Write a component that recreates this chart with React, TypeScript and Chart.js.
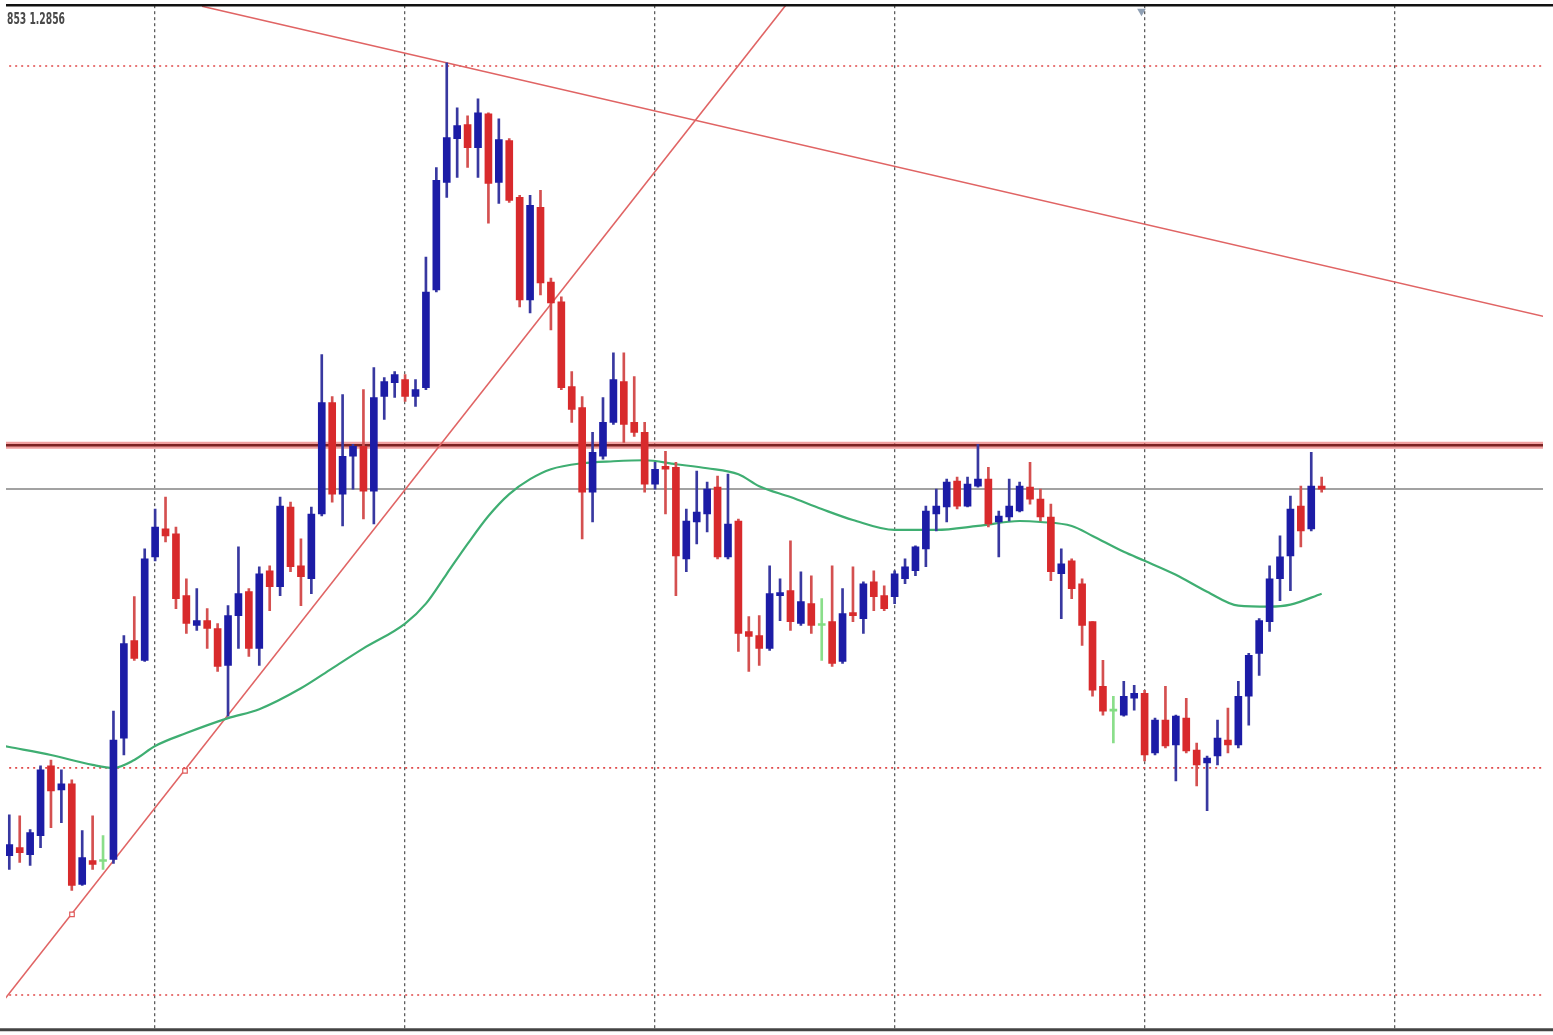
import React, { useEffect, useRef } from "react";
import { Chart, registerables } from "chart.js";

Chart.register(...registerables);

// ---- Candle data (EURUSD-like, H1), one entry per bar ----
const OPEN = [
  1.28192, 1.282, 1.28193, 1.28212, 1.28282, 1.28258, 1.28264, 1.28163, 1.28187, 1.28186,
  1.28188, 1.2831, 1.28408, 1.28388, 1.28492, 1.2852, 1.28515, 1.28453, 1.28423, 1.28428,
  1.2842, 1.28383, 1.28433, 1.28457, 1.284, 1.28478, 1.28462, 1.28542, 1.28483, 1.2847,
  1.28535, 1.28647, 1.28555, 1.28593, 1.28603, 1.28558, 1.28653, 1.28667, 1.2867, 1.28653,
  1.28662, 1.2876, 1.28868, 1.28912, 1.28926, 1.28903, 1.28937, 1.28868, 1.2891, 1.28853,
  1.2875, 1.28843, 1.28768, 1.28748, 1.28663, 1.28642, 1.28557, 1.28593, 1.28627, 1.28668,
  1.28627, 1.28617, 1.28565, 1.28583, 1.28582, 1.2849, 1.28527, 1.28535, 1.28562, 1.28492,
  1.28528, 1.28417, 1.28413, 1.284, 1.28453, 1.28458, 1.28425, 1.28445, 1.28423, 1.28427,
  1.28387, 1.28436, 1.2843, 1.28467, 1.28453, 1.28452, 1.2847, 1.28478, 1.285, 1.28535,
  1.28542, 1.28568, 1.28543, 1.28563, 1.2857, 1.28527, 1.28532, 1.28538, 1.28562, 1.2855,
  1.28532, 1.28475, 1.28488, 1.28465, 1.28427, 1.28362, 1.28337, 1.28333, 1.2835, 1.28355,
  1.28295, 1.28328, 1.28303, 1.2833, 1.28298, 1.28285, 1.28292, 1.28308, 1.28303, 1.28352,
  1.28395, 1.28427, 1.2847, 1.28493, 1.28543, 1.2852, 1.28563,
];
const HIGH = [
  1.28233, 1.28232, 1.28218, 1.28282, 1.28288, 1.28278, 1.28268, 1.28217, 1.28232, 1.28212,
  1.28337, 1.28413, 1.28452, 1.285, 1.2854, 1.28552, 1.28522, 1.2847, 1.2846, 1.2844,
  1.28425, 1.28443, 1.28502, 1.2846, 1.28482, 1.28483, 1.28552, 1.28547, 1.2851, 1.28542,
  1.28695, 1.28653, 1.28655, 1.28605, 1.2866, 1.28682, 1.28672, 1.28678, 1.28675, 1.2867,
  1.28793, 1.28883, 1.28988, 1.28943, 1.28935, 1.28952, 1.28938, 1.28932, 1.28912, 1.28855,
  1.28855, 1.2886, 1.28772, 1.28753, 1.28678, 1.28653, 1.28617, 1.28652, 1.28697, 1.28697,
  1.28673, 1.28627, 1.28587, 1.28598, 1.28587, 1.2854, 1.28578, 1.28567, 1.28573, 1.28575,
  1.2853, 1.28432, 1.28433, 1.28483, 1.2847, 1.28508, 1.28477, 1.28473, 1.2845, 1.28483,
  1.2846, 1.28482, 1.28467, 1.28478, 1.28463, 1.28478, 1.2849, 1.28503, 1.28543, 1.2856,
  1.2857, 1.28572, 1.28572, 1.28605, 1.28582, 1.28538, 1.2857, 1.28567, 1.28587, 1.2856,
  1.28545, 1.285, 1.2849, 1.2847, 1.28427, 1.28388, 1.28352, 1.28367, 1.28363, 1.28358,
  1.2833, 1.28362, 1.28333, 1.2835, 1.28305, 1.28292, 1.28328, 1.2834, 1.28367, 1.28395,
  1.2843, 1.28483, 1.28513, 1.28553, 1.28563, 1.28597, 1.28572,
];
const LOW = [
  1.28178, 1.28185, 1.28182, 1.282, 1.2822, 1.28225, 1.28157, 1.28162, 1.28178, 1.28178,
  1.28184, 1.28293, 1.28388, 1.28387, 1.28488, 1.28507, 1.2844, 1.28415, 1.28418, 1.284,
  1.28377, 1.28332, 1.284, 1.28392, 1.28383, 1.28438, 1.28453, 1.28477, 1.28443, 1.28455,
  1.28533, 1.28547, 1.28523, 1.2856, 1.2853, 1.28525, 1.2863, 1.28652, 1.28648, 1.28643,
  1.2866, 1.28758, 1.28853, 1.28873, 1.28883, 1.28873, 1.28827, 1.28847, 1.28848, 1.28743,
  1.28737, 1.28755, 1.2872, 1.2866, 1.28627, 1.2851, 1.28527, 1.2859, 1.28625, 1.28607,
  1.28613, 1.28557, 1.2856, 1.28535, 1.28453, 1.28477, 1.28505, 1.28517, 1.2849, 1.2849,
  1.28397, 1.28377, 1.28383, 1.28398, 1.28428, 1.28418, 1.28423, 1.28415, 1.28388, 1.28382,
  1.28385, 1.28427, 1.28415, 1.28438, 1.28438, 1.28445, 1.28465, 1.28473, 1.28482, 1.28518,
  1.28527, 1.2854, 1.28542, 1.28562, 1.28522, 1.28492, 1.28528, 1.28537, 1.28545, 1.28528,
  1.28468, 1.2843, 1.2845, 1.28403, 1.28352, 1.28333, 1.28305, 1.28332, 1.28338, 1.28287,
  1.28293, 1.283, 1.28267, 1.28295, 1.28262, 1.28237, 1.28283, 1.28295, 1.283, 1.28323,
  1.28373, 1.28417, 1.28448, 1.28458, 1.28502, 1.28518, 1.28557,
];
const CLOSE = [
  1.28203, 1.28195, 1.28215, 1.28278, 1.28257, 1.28264, 1.28162, 1.2819, 1.28183, 1.28186,
  1.28308, 1.28405, 1.2839, 1.2849, 1.28522, 1.28513, 1.2845, 1.28425, 1.28428, 1.2842,
  1.28382, 1.28433, 1.28455, 1.284, 1.28475, 1.28462, 1.28543, 1.28482, 1.28472, 1.28535,
  1.28647, 1.28555, 1.28593, 1.28603, 1.28558, 1.28652, 1.28668, 1.28675, 1.28653, 1.2866,
  1.28758, 1.2887, 1.28913, 1.28925, 1.28903, 1.28938, 1.28867, 1.28911, 1.2885, 1.2875,
  1.28845, 1.28767, 1.28747, 1.28662, 1.2864, 1.28557, 1.28597, 1.28627, 1.2867, 1.28625,
  1.28617, 1.28565, 1.2858, 1.2858, 1.28493, 1.28528, 1.28537, 1.2856, 1.28492, 1.28525,
  1.28415, 1.28412, 1.284, 1.28455, 1.28456, 1.28427, 1.28447, 1.28423, 1.28423, 1.28385,
  1.28435, 1.28433, 1.28465, 1.28452, 1.2844, 1.28475, 1.28482, 1.28502, 1.28538, 1.28543,
  1.28567, 1.28543, 1.28565, 1.2857, 1.28525, 1.28533, 1.28543, 1.28563, 1.2855, 1.28532,
  1.28477, 1.28485, 1.2846, 1.28423, 1.28358, 1.28337, 1.28337, 1.28352, 1.28355, 1.28293,
  1.28328, 1.28302, 1.28332, 1.28297, 1.28283, 1.2829, 1.2831, 1.28303, 1.28352, 1.28393,
  1.28428, 1.2847, 1.28492, 1.2854, 1.28518, 1.28563, 1.2856,
];

// ---- Moving average (read at selected bars) ----
const MA_IDX = [
  -1, 0, 4, 8, 10, 12, 14, 17, 21, 24, 28, 31, 34, 38, 40, 42, 44, 46, 48, 50, 52, 55, 58, 61,
  64, 67, 70, 72, 75, 78, 81, 85, 89, 93, 97, 99, 102, 104, 107, 109, 112, 115, 118, 121, 123, 126,
];
const MA_VAL = [
  1.28303, 1.28301, 1.28293, 1.28283, 1.2828, 1.28288, 1.28302, 1.28315, 1.2833, 1.28339, 1.2836,
  1.2838, 1.284, 1.28425, 1.28445, 1.28475, 1.28505, 1.28533, 1.28555, 1.2857, 1.2858, 1.28586,
  1.28588, 1.28589, 1.28585, 1.28581, 1.28575, 1.28563, 1.28552, 1.2854, 1.28529, 1.28519, 1.28519,
  1.28523, 1.28528, 1.28527, 1.28523, 1.28513, 1.28497, 1.28488, 1.28474, 1.28457, 1.28443, 1.28442,
  1.28444, 1.28455,
];

// ---- Drawn objects ----
const GRID_IDX = [14, 38, 62, 85, 109, 133];
const DOTTED_LEVELS = [1.28985, 1.2828, 1.28052];
const RESISTANCE = 1.28604;
const BID = 1.2856;
const TREND_DOWN_X = [18.5, 147.5];
const TREND_DOWN_Y = [1.29045, 1.28733];
const TREND_UP_X = [-0.5, 75];
const TREND_UP_Y = [1.28047, 1.29052];
const ANCHOR_X = [6.02, 16.87];
const ANCHOR_Y = [1.28133, 1.28277];
const SHIFT_MARK_X = [108.7];
const SHIFT_MARK_Y = [1.2904];
const LABEL = "853 1.2856";

const X_MIN = -0.317;
const X_MAX = 147.25;
const Y_MIN = 1.28017;
const Y_MAX = 1.29046;

const UP = "#1c1ca6";
const DOWN = "#d82a2c";
const FLAT = "#82dc82";
const UP_WICK = "#3838a0";
const DOWN_WICK = "#d45050";
const FLAT_WICK = "#8ade8a";

function dirOf(i: number) {
  if (CLOSE[i] > OPEN[i]) return 1;
  if (CLOSE[i] < OPEN[i]) return -1;
  return 0;
}

function hline(y: number, color: string, width: number, dash: number[], order: number) {
  return {
    type: "line" as const,
    data: [
      { x: X_MIN - 2, y },
      { x: X_MAX + 2, y },
    ],
    borderColor: color,
    borderWidth: width,
    borderDash: dash,
    pointRadius: 0,
    order,
  };
}

const overlayPlugin = {
  id: "mtOverlay",
  afterDraw(chart: any) {
    const { ctx, chartArea, width } = chart;
    ctx.save();
    ctx.strokeStyle = "#111111";
    ctx.lineWidth = 2.5;
    ctx.beginPath();
    ctx.moveTo(chartArea.left, chartArea.top);
    ctx.lineTo(width, chartArea.top);
    ctx.stroke();
    ctx.strokeStyle = "#444444";
    ctx.lineWidth = 3;
    ctx.beginPath();
    ctx.moveTo(0, chartArea.bottom);
    ctx.lineTo(width, chartArea.bottom);
    ctx.stroke();

    ctx.font = 'bold 15px "DejaVu Sans Condensed", "DejaVu Sans", sans-serif';
    const w = ctx.measureText(LABEL).width;
    ctx.translate(chartArea.left + 1, chartArea.top + 7);
    ctx.scale(58 / w, 1);
    ctx.fillStyle = "#4a4a4a";
    ctx.textBaseline = "top";
    ctx.fillText(LABEL, 0, 0);
    ctx.restore();
  },
};

export default function App() {
  const ref = useRef<HTMLCanvasElement>(null);

  useEffect(() => {
    document.body.style.margin = "0";
    const idx = OPEN.map((_, i) => i);

    const wicks = {
      type: "bar" as const,
      data: idx.map((i) => ({ x: i, y: [LOW[i], HIGH[i]] })),
      backgroundColor: (c: any) => {
        const d = dirOf(c.dataIndex);
        return d > 0 ? UP_WICK : d < 0 ? DOWN_WICK : FLAT_WICK;
      },
      barThickness: 2,
      grouped: false,
      borderWidth: 0,
      order: 2,
    };
    const bodies = {
      type: "bar" as const,
      data: idx.map((i) => ({ x: i, y: [OPEN[i], CLOSE[i]] })),
      backgroundColor: (c: any) => {
        const d = dirOf(c.dataIndex);
        return d > 0 ? UP : d < 0 ? DOWN : FLAT;
      },
      barThickness: 7,
      minBarLength: 2,
      grouped: false,
      borderWidth: 0,
      order: 1,
    };
    const ma = {
      type: "line" as const,
      data: MA_IDX.map((x, i) => ({ x, y: MA_VAL[i] })),
      borderColor: "#3fae72",
      borderWidth: 2.2,
      pointRadius: 0,
      cubicInterpolationMode: "monotone" as const,
      order: 4,
    };
    const trendDown = {
      type: "line" as const,
      data: TREND_DOWN_X.map((x, i) => ({ x, y: TREND_DOWN_Y[i] })),
      borderColor: "#e06464",
      borderWidth: 1.6,
      pointRadius: 0,
      order: 5,
    };
    const trendUp = {
      type: "line" as const,
      data: TREND_UP_X.map((x, i) => ({ x, y: TREND_UP_Y[i] })),
      borderColor: "#e06464",
      borderWidth: 1.6,
      pointRadius: 0,
      order: 5,
    };
    const anchors = {
      type: "scatter" as const,
      data: ANCHOR_X.map((x, i) => ({ x, y: ANCHOR_Y[i] })),
      pointStyle: "rect",
      pointRadius: 3.2,
      borderColor: "#e05a5a",
      backgroundColor: "#ffffff",
      borderWidth: 1.2,
      order: 0,
    };
    const shiftMark = {
      type: "scatter" as const,
      data: SHIFT_MARK_X.map((x, i) => ({ x, y: SHIFT_MARK_Y[i] })),
      pointStyle: "triangle",
      rotation: 180,
      pointRadius: 5,
      borderWidth: 0,
      backgroundColor: "#90a0b4",
      order: 0,
    };

    const datasets: any[] = [
      bodies,
      wicks,
      ma,
      trendDown,
      trendUp,
      anchors,
      shiftMark,
      hline(BID, "#a2a2a2", 2, [], 7),
      hline(RESISTANCE, "rgba(232,96,96,0.6)", 7, [], 8),
      hline(RESISTANCE, "#7c2222", 2.4, [], 6),
      ...DOTTED_LEVELS.map((v) => hline(v, "#e04a4a", 1.6, [2, 4], 9)),
    ];

    const chart = new Chart(ref.current as HTMLCanvasElement, {
      type: "bar",
      data: { datasets },
      options: {
        animation: false,
        responsive: false,
        events: [],
        layout: { padding: { left: 6, right: 10, top: 4, bottom: 2 } },
        plugins: { legend: { display: false }, tooltip: { enabled: false } },
        scales: {
          x: {
            type: "linear",
            min: X_MIN,
            max: X_MAX,
            offset: false,
            afterBuildTicks: (scale: any) => {
              scale.ticks = GRID_IDX.map((v) => ({ value: v }));
            },
            ticks: { display: false },
            grid: { color: "#5e5e5e", lineWidth: 1.3, drawTicks: false, offset: false },
            border: { display: false, dash: [3, 3] },
          },
          y: {
            type: "linear",
            display: false,
            min: Y_MIN,
            max: Y_MAX,
          },
        },
      } as any,
      plugins: [overlayPlugin],
    });
    return () => chart.destroy();
  }, []);

  return (
    <div style={{ position: "absolute", left: 0, top: 0, width: 1553, height: 1035, background: "#ffffff" }}>
      <canvas ref={ref} width={1553} height={1035} style={{ display: "block", width: 1553, height: 1035 }} />
    </div>
  );
}
